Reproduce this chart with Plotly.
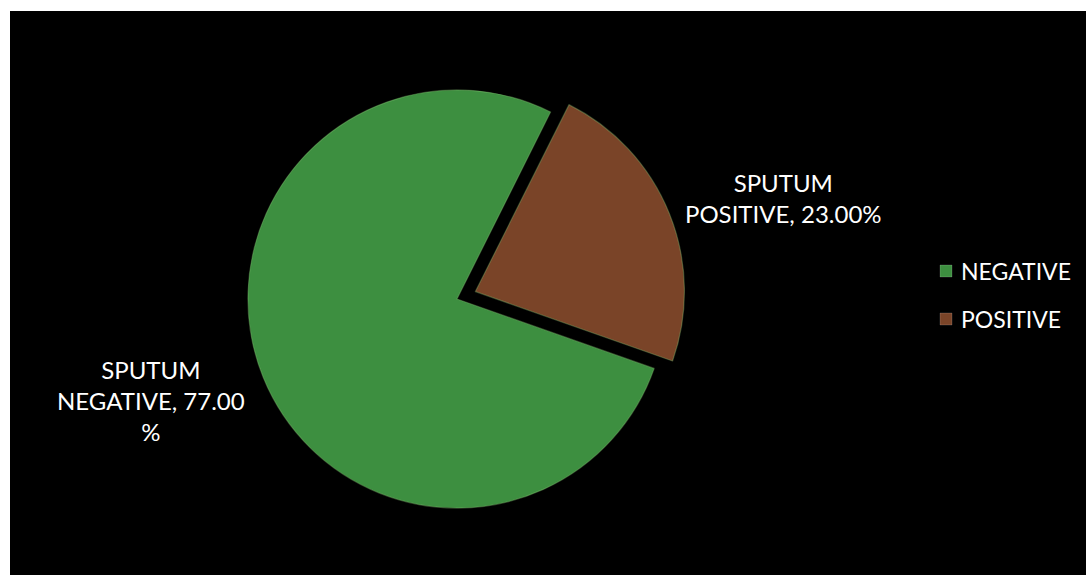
import plotly.graph_objects as go

# Sputum test results
categories = ["NEGATIVE", "POSITIVE"]
percentages = [77.00, 23.00]
pulls = [0.0, 0.095]
colors = ["#3d8f40", "#7a4428"]

W, H = 1086, 575
FONT = "Lato"

fig = go.Figure()
fig.add_trace(go.Pie(
    labels=categories,
    values=percentages,
    sort=False,
    direction="clockwise",
    rotation=109.4,
    pull=pulls,
    textinfo="none",
    hoverinfo="label+percent",
    marker=dict(colors=colors, line=dict(color="rgba(140,200,120,0.35)", width=1.2)),
    domain=dict(x=[0.2100, 0.6316], y=[0.0819, 0.8781]),
    showlegend=False,
))

# data labels
neg_text = f"SPUTUM<br>NEGATIVE, {percentages[0]:.2f}<br>%"
pos_text = f"SPUTUM<br>POSITIVE, {percentages[1]:.2f}%"
annotations = [
    dict(text=neg_text, x=151 / W, y=1 - 401 / H, xref="paper", yref="paper",
         xanchor="center", yanchor="middle", showarrow=False, align="center",
         font=dict(family=FONT, size=24, color="white")),
    dict(text=pos_text, x=783 / W, y=1 - 198 / H, xref="paper", yref="paper",
         xanchor="center", yanchor="middle", showarrow=False, align="center",
         font=dict(family=FONT, size=24, color="white")),
]

# black chart area with a thin white strip on the top and left
shapes = [
    dict(type="rect", xref="paper", yref="paper", x0=10 / W, x1=1.05, y0=-0.05, y1=1 - 11 / H,
         fillcolor="black", line=dict(width=0), layer="below"),
]

# legend entries
legend_y = [271, 319]
for name, col, ly in zip(categories, colors, legend_y):
    shapes.append(dict(type="rect", xref="paper", yref="paper",
                       x0=940 / W, x1=952 / W, y0=1 - (ly + 6) / H, y1=1 - (ly - 6) / H,
                       fillcolor=col, line=dict(color="rgba(255,255,255,0.15)", width=1)))
    annotations.append(dict(text=name, x=959 / W, y=1 - ly / H, xref="paper", yref="paper",
                            xanchor="left", yanchor="middle", showarrow=False,
                            font=dict(family=FONT, size=23, color="white")))

fig.update_layout(
    width=W, height=H,
    margin=dict(l=0, r=0, t=0, b=0),
    paper_bgcolor="white",
    plot_bgcolor="white",
    shapes=shapes,
    annotations=annotations,
    showlegend=False,
)

fig.write_html("out.html")
